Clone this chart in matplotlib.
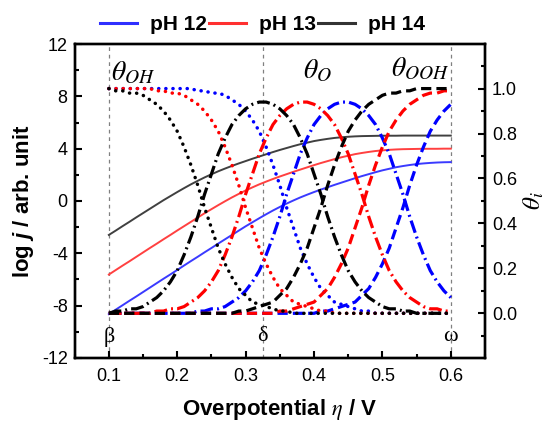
import matplotlib
matplotlib.use('Agg')
import matplotlib.pyplot as plt
from matplotlib.lines import Line2D
from matplotlib.ticker import MultipleLocator

plt.rcParams['font.family'] = ['Liberation Sans', 'DejaVu Sans']
plt.rcParams['axes.unicode_minus'] = False
plt.rcParams['mathtext.fontset'] = 'custom'
plt.rcParams['mathtext.rm'] = 'Liberation Sans:bold'
plt.rcParams['mathtext.it'] = 'Liberation Sans:italic:bold'
plt.rcParams['mathtext.bf'] = 'Liberation Sans:bold'

# overpotential / V
eta = [0.10, 0.11, 0.12, 0.13, 0.14, 0.15, 0.16, 0.17, 0.18, 0.19,
       0.20, 0.21, 0.22, 0.23, 0.24, 0.25, 0.26, 0.27, 0.28, 0.29,
       0.30, 0.31, 0.32, 0.33, 0.34, 0.35, 0.36, 0.37, 0.38, 0.39,
       0.40, 0.41, 0.42, 0.43, 0.44, 0.45, 0.46, 0.47, 0.48, 0.49,
       0.50, 0.51, 0.52, 0.53, 0.54, 0.55, 0.56, 0.57, 0.58, 0.59, 0.60]

ph_labels = ['pH 12', 'pH 13', 'pH 14']

# log j (left axis)
logj_ph12 = [-8.66, -8.32, -7.98, -7.64, -7.31, -6.97, -6.63, -6.29, -5.95, -5.62,
             -5.28, -4.94, -4.60, -4.27, -3.93, -3.60, -3.26, -2.93, -2.60, -2.27,
             -1.94, -1.63, -1.32, -1.02, -0.73, -0.46, -0.20, 0.04, 0.27, 0.48,
             0.68, 0.87, 1.05, 1.23, 1.40, 1.57, 1.74, 1.90, 2.05, 2.20,
             2.34, 2.46, 2.58, 2.67, 2.75, 2.82, 2.87, 2.91, 2.94, 2.96, 2.97]
logj_ph13 = [-5.63, -5.29, -4.95, -4.62, -4.28, -3.94, -3.60, -3.27, -2.93, -2.60,
             -2.26, -1.93, -1.60, -1.27, -0.94, -0.63, -0.32, -0.02, 0.27, 0.54,
             0.80, 1.04, 1.27, 1.48, 1.68, 1.87, 2.05, 2.23, 2.40, 2.57,
             2.74, 2.90, 3.05, 3.20, 3.34, 3.46, 3.58, 3.67, 3.75, 3.82,
             3.87, 3.91, 3.94, 3.96, 3.97, 3.98, 3.99, 3.99, 3.99, 4.00, 4.00]
logj_ph14 = [-2.60, -2.27, -1.93, -1.60, -1.26, -0.93, -0.60, -0.27, 0.06, 0.37,
             0.68, 0.98, 1.27, 1.54, 1.80, 2.04, 2.27, 2.48, 2.68, 2.87,
             3.05, 3.23, 3.40, 3.57, 3.74, 3.90, 4.05, 4.20, 4.34, 4.46,
             4.58, 4.67, 4.75, 4.82, 4.87, 4.91, 4.94, 4.96, 4.97, 4.98,
             4.99, 4.99, 4.99, 5.00, 5.00, 5.00, 5.00, 5.00, 5.00, 5.00, 5.00]

# coverages (right axis)
oh_ph12 = [1.00, 1.00, 1.00, 1.00, 1.00, 1.00, 1.00, 1.00, 1.00, 1.00,
           1.00, 1.00, 1.00, 0.99, 0.99, 0.98, 0.98, 0.97, 0.95, 0.93,
           0.90, 0.86, 0.81, 0.74, 0.66, 0.57, 0.47, 0.38, 0.29, 0.22,
           0.16, 0.11, 0.08, 0.05, 0.04, 0.03, 0.02, 0.01, 0.01, 0.00,
           0.00, 0.00, 0.00, 0.00, 0.00, 0.00, 0.00, 0.00, 0.00, 0.00, 0.00]
o_ph12 = [0.00, 0.00, 0.00, 0.00, 0.00, 0.00, 0.00, 0.00, 0.00, 0.00,
          0.00, 0.00, 0.00, 0.01, 0.01, 0.02, 0.02, 0.03, 0.05, 0.07,
          0.10, 0.14, 0.19, 0.26, 0.34, 0.43, 0.53, 0.62, 0.71, 0.78,
          0.84, 0.88, 0.91, 0.93, 0.94, 0.94, 0.93, 0.91, 0.88, 0.84,
          0.78, 0.71, 0.62, 0.53, 0.43, 0.34, 0.26, 0.19, 0.14, 0.10, 0.07]
ooh_ph12 = [0.00, 0.00, 0.00, 0.00, 0.00, 0.00, 0.00, 0.00, 0.00, 0.00,
            0.00, 0.00, 0.00, 0.00, 0.00, 0.00, 0.00, 0.00, 0.00, 0.00,
            0.00, 0.00, 0.00, 0.00, 0.00, 0.00, 0.00, 0.00, 0.00, 0.00,
            0.00, 0.01, 0.01, 0.02, 0.03, 0.04, 0.05, 0.08, 0.11, 0.16,
            0.22, 0.29, 0.38, 0.47, 0.57, 0.66, 0.74, 0.81, 0.86, 0.90, 0.93]

oh_ph13 = [1.00, 1.00, 1.00, 1.00, 1.00, 1.00, 1.00, 0.99, 0.99, 0.98,
           0.98, 0.97, 0.95, 0.93, 0.90, 0.86, 0.81, 0.74, 0.66, 0.57,
           0.47, 0.38, 0.29, 0.22, 0.16, 0.11, 0.08, 0.05, 0.04, 0.03,
           0.02, 0.01, 0.01, 0.00, 0.00, 0.00, 0.00, 0.00, 0.00, 0.00,
           0.00, 0.00, 0.00, 0.00, 0.00, 0.00, 0.00, 0.00, 0.00, 0.00, 0.00]
o_ph13 = [0.00, 0.00, 0.00, 0.00, 0.00, 0.00, 0.00, 0.01, 0.01, 0.02,
          0.02, 0.03, 0.05, 0.07, 0.10, 0.14, 0.19, 0.26, 0.34, 0.43,
          0.53, 0.62, 0.71, 0.78, 0.84, 0.88, 0.91, 0.93, 0.94, 0.94,
          0.93, 0.91, 0.88, 0.84, 0.78, 0.71, 0.62, 0.53, 0.43, 0.34,
          0.26, 0.19, 0.14, 0.10, 0.07, 0.05, 0.03, 0.02, 0.02, 0.01, 0.01]
ooh_ph13 = [0.00, 0.00, 0.00, 0.00, 0.00, 0.00, 0.00, 0.00, 0.00, 0.00,
            0.00, 0.00, 0.00, 0.00, 0.00, 0.00, 0.00, 0.00, 0.00, 0.00,
            0.00, 0.00, 0.00, 0.00, 0.00, 0.01, 0.01, 0.02, 0.03, 0.04,
            0.05, 0.08, 0.11, 0.16, 0.22, 0.29, 0.38, 0.47, 0.57, 0.66,
            0.74, 0.81, 0.86, 0.90, 0.93, 0.95, 0.97, 0.98, 0.98, 0.99, 0.99]

oh_ph14 = [1.00, 0.99, 0.99, 0.98, 0.98, 0.97, 0.95, 0.93, 0.90, 0.86,
           0.81, 0.74, 0.66, 0.57, 0.47, 0.38, 0.29, 0.22, 0.16, 0.11,
           0.08, 0.05, 0.04, 0.03, 0.02, 0.01, 0.01, 0.00, 0.00, 0.00,
           0.00, 0.00, 0.00, 0.00, 0.00, 0.00, 0.00, 0.00, 0.00, 0.00,
           0.00, 0.00, 0.00, 0.00, 0.00, 0.00, 0.00, 0.00, 0.00, 0.00, 0.00]
o_ph14 = [0.00, 0.01, 0.01, 0.02, 0.02, 0.03, 0.05, 0.07, 0.10, 0.14,
          0.19, 0.26, 0.34, 0.43, 0.53, 0.62, 0.71, 0.78, 0.84, 0.88,
          0.91, 0.93, 0.94, 0.94, 0.93, 0.91, 0.88, 0.84, 0.78, 0.71,
          0.62, 0.53, 0.43, 0.34, 0.26, 0.19, 0.14, 0.10, 0.07, 0.05,
          0.03, 0.02, 0.02, 0.01, 0.01, 0.00, 0.00, 0.00, 0.00, 0.00, 0.00]
ooh_ph14 = [0.00, 0.00, 0.00, 0.00, 0.00, 0.00, 0.00, 0.00, 0.00, 0.00,
            0.00, 0.00, 0.00, 0.00, 0.00, 0.00, 0.00, 0.00, 0.00, 0.01,
            0.01, 0.02, 0.03, 0.04, 0.05, 0.08, 0.11, 0.16, 0.22, 0.29,
            0.38, 0.47, 0.57, 0.66, 0.74, 0.81, 0.86, 0.90, 0.93, 0.95,
            0.97, 0.98, 0.98, 0.99, 0.99, 1.00, 1.00, 1.00, 1.00, 1.00, 1.00]

marks = [0.1, 0.325, 0.6]
mark_labels = ['\u03b2', '\u03b4', '\u03c9']


def main():
    fig = plt.figure(figsize=(5.53, 4.28), dpi=100)
    ax = fig.add_axes([0.135, 0.164, 0.742, 0.733])
    ax2 = ax.twinx()

    for x in marks:
        ax.axvline(x, color='#808080', lw=0.9, ls=(0, (3, 3)), zorder=0)

    line_cols = ['#3a3aff', '#ff4040', '#404040']
    for y, c in zip([logj_ph12, logj_ph13, logj_ph14], line_cols):
        ax.plot(eta, y, color=c, lw=1.4, zorder=2)

    th_cols = ['#0000ff', '#ff0000', '#000000']
    dot = (0, (0.05, 2.0))
    dash = (0, (3.2, 1.6))
    dashdot = (0, (4.0, 1.3, 0.6, 1.3))
    sets = [(oh_ph12, o_ph12, ooh_ph12), (oh_ph13, o_ph13, ooh_ph13),
            (oh_ph14, o_ph14, ooh_ph14)]
    for (oh, o, ooh), c in zip(sets, th_cols):
        ax2.plot(eta, oh, color=c, lw=2.5, ls=dot, dash_capstyle='round')
        ax2.plot(eta, o, color=c, lw=2.3, ls=dashdot)
        ax2.plot(eta, ooh, color=c, lw=2.3, ls=dash)

    ax.set_xlim(0.05, 0.65)
    ax.set_ylim(-12, 12)
    ax2.set_ylim(-0.198, 1.198)
    ax.set_xticks([0.1, 0.2, 0.3, 0.4, 0.5, 0.6])
    ax.xaxis.set_minor_locator(MultipleLocator(0.05))
    ax.yaxis.set_major_locator(MultipleLocator(4))
    ax.yaxis.set_minor_locator(MultipleLocator(2))
    ax2.yaxis.set_major_locator(MultipleLocator(0.2))
    ax2.yaxis.set_minor_locator(MultipleLocator(0.1))
    ax2.yaxis.set_major_formatter(plt.FormatStrFormatter('%.1f'))

    for a in (ax, ax2):
        for s in a.spines.values():
            s.set_linewidth(1.7)
        a.tick_params(which='both', direction='in', width=1.5, labelsize=13)
        a.tick_params(which='major', length=5)
        a.tick_params(which='minor', length=3)
    ax.tick_params(axis='x', pad=7)
    ax.tick_params(axis='y', pad=5, right=False)
    ax2.tick_params(axis='y', pad=5)

    ax.set_xlabel(r'Overpotential $\eta$ / V', fontsize=16, fontweight='bold',
                  math_fontfamily='stix', labelpad=9)
    ax.set_ylabel(r'log $j$ / arb. unit', fontsize=16, fontweight='bold', labelpad=4)
    ax2.set_ylabel(r'$\theta_i$', fontsize=18, math_fontfamily='stix', labelpad=3)

    for x, t in zip(marks, mark_labels):
        ax.text(x, -10.4, t, family='Liberation Serif', fontsize=16,
                ha='center', va='center')

    ax.text(0.135, 9.8, r'$\theta_{OH}$', fontsize=20, math_fontfamily='stix',
            ha='center', va='center')
    ax.text(0.405, 9.9, r'$\theta_{O}$', fontsize=20, math_fontfamily='stix',
            ha='center', va='center')
    ax.text(0.555, 10.1, r'$\theta_{OOH}$', fontsize=20, math_fontfamily='stix',
            ha='center', va='center')

    handles = [Line2D([], [], color=c, lw=2.2) for c in ['#2f2fff', '#ff3030', '#333333']]
    fig.legend(handles, ph_labels, loc='center', bbox_to_anchor=(0.474, 0.942),
               ncol=3, frameon=False, prop={'size': 15, 'weight': 'bold'},
               handlelength=1.8, handletextpad=0.6, columnspacing=0.1)

    fig.savefig('out.png', dpi=100)


if __name__ == "__main__":
    main()
